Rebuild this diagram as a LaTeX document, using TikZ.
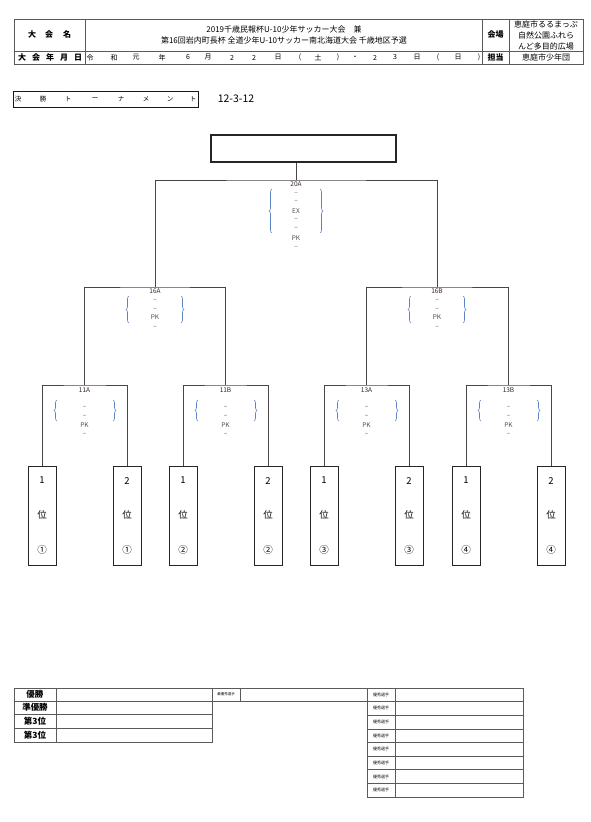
\documentclass[tikz,border=0pt]{standalone}
\usepackage{fontspec}
\setmainfont{Noto Sans CJK JP}
\usepackage{tikz}
\usetikzlibrary{decorations.pathreplacing}
\definecolor{lineink}{RGB}{70, 70, 70}
\definecolor{gridink}{RGB}{90, 90, 90}
\definecolor{braceblue}{RGB}{88, 132, 196}
\definecolor{labelink}{RGB}{50, 35, 30}
\definecolor{markink}{RGB}{85, 75, 70}
\tikzset{
  gridline/.style={draw=gridink, line width=0.7pt},
  headtext/.style={font=\fontsize{8}{9}\selectfont, inner sep=0pt},
  datechar/.style={font=\fontsize{7}{8}\selectfont, inner sep=0pt},
  titlechar/.style={font=\fontsize{6.5}{7}\selectfont, inner sep=0pt},
  titlebox/.style={draw=black!90, line width=1pt},
  champbox/.style={
    rectangle, draw=black!85, line width=1.4pt,
    minimum width=185pt, minimum height=27pt
  },
  teambox/.style={
    rectangle, draw=black!85, line width=0.8pt,
    minimum width=28pt, minimum height=99pt, inner sep=0pt
  },
  teamtext/.style={font=\fontsize{9.5}{10}\selectfont, inner sep=0pt},
  bracket/.style={draw=lineink, line width=0.8pt},
  matchlabel/.style={font=\fontsize{6.5}{7}\selectfont, text=labelink, inner sep=0pt},
  scoremark/.style={font=\fontsize{6.5}{7}\selectfont, text=markink, inner sep=0pt},
  scorebrace/.style={
    draw=braceblue, line width=0.6pt, decorate,
    decoration={brace, amplitude=3pt}
  },
  ranklabel/.style={font=\bfseries\fontsize{8.5}{9}\selectfont, inner sep=0pt},
  tinylabel/.style={font=\fontsize{3.5}{4}\selectfont, inner sep=0pt},
  smalllabel/.style={font=\fontsize{4}{5}\selectfont, inner sep=0pt}
}

\begin{document}
\begin{tikzpicture}[x=1pt, y=-1pt]

  \useasboundingbox (0,0) rectangle (590,822);

  % Header table
  \draw[gridline] (14,19) rectangle (583,64);
  \draw[gridline] (14,51) -- (583,51);
  \draw[gridline] (85,19) -- (85,64);
  \draw[gridline] (482,19) -- (482,64);
  \draw[gridline] (509,19) -- (509,64);

  \foreach \x/\t in {32/大,49/会,67/名}
    \node[headtext, font=\bfseries\fontsize{8}{9}\selectfont] at (\x,34) {\t};
  \node[headtext] (title1) at (284,29) {2019千歳民報杯U-10少年サッカー大会　兼};
  \node[headtext] (title2) at (284,40) {第16回岩内町長杯 全道少年U-10サッカー南北海道大会 千歳地区予選};
  \node[headtext, font=\bfseries\fontsize{8}{9}\selectfont] (venue_head) at (495.5,34) {会場};
  \node[headtext] (venue1) at (546,24) {恵庭市るるまっぷ};
  \node[headtext] (venue2) at (546,35) {自然公園ふれら};
  \node[headtext] (venue3) at (546,46) {んど多目的広場};

  \foreach \x/\t in {22/大,36/会,50/年,64/月,78/日}
    \node[headtext, font=\bfseries\fontsize{8}{9}\selectfont] at (\x,57.5) {\t};
  \foreach \x/\t in {90/{令},114/{和},136/{元},162/{年},188/{6},208/{月},232/{2},254/{2},278/{日},
                     300/{(},318/{土},338/{)},355/{・},375/{2},395/{3},417/{日},438/{(},458/{日},479/{)}}
    \node[datechar] at (\x,57.5) {\t};
  \node[headtext, font=\bfseries\fontsize{8}{9}\selectfont] (staff_head) at (495.5,57.5) {担当};
  \node[headtext] (staff) at (546,57.5) {恵庭市少年団};

  % Title
  \draw[titlebox] (13,91) rectangle (198,107);
  \foreach \x/\t in {18/決,43/勝,68/ト,95/ー,121/ナ,146/メ,170/ン,193/ト}
    \node[titlechar] at (\x,99) {\t};
  \node[headtext, font=\fontsize{10.5}{11}\selectfont] (round_code) at (236,99) {12-3-12};

  % Champion
  \node[champbox] (champ) at (303.5,148.5) {};

  % Match points
  \coordinate (m20A) at (296,180);
  \coordinate (m16A) at (155,287);
  \coordinate (m16B) at (437,287);
  \coordinate (m11A) at (84.5,385);
  \coordinate (m11B) at (225.5,385);
  \coordinate (m13A) at (366.5,385);
  \coordinate (m13B) at (508.5,385);

  % Teams
  \foreach \x/\r/\g [count=\i] in {42/1/①,127/2/①,183/1/②,268/2/②,324/1/③,409/2/③,466/1/④,551/2/④} {
    \node[teambox] (team\i) at (\x,515.5) {};
    \node[teamtext] (rank\i) at ([yshift=-15pt]team\i.north) {\r};
    \node[teamtext] (pos\i) at ([yshift=-49pt]team\i.north) {位};
    \node[teamtext] (group\i) at ([yshift=-84pt]team\i.north) {\g};
  }

  % Bracket
  \draw[bracket] (team1.north) |- (m11A) -| (team2.north);
  \draw[bracket] (team3.north) |- (m11B) -| (team4.north);
  \draw[bracket] (team5.north) |- (m13A) -| (team6.north);
  \draw[bracket] (team7.north) |- (m13B) -| (team8.north);
  \draw[bracket] (m11A) |- (m16A) -| (m11B);
  \draw[bracket] (m13A) |- (m16B) -| (m13B);
  \draw[bracket] (m16A) |- (m20A) -| (m16B);
  \draw[bracket] (m20A) -- (m20A |- champ.south);

  % Final score block
  \node[matchlabel] (lab20A) at ([yshift=-4pt]m20A) {20A};
  \foreach \dy/\t in {13/--,21/--,31/EX,39/--,48/--,58/PK,67/--}
    \node[scoremark] at ([yshift=-\dy pt]m20A) {\t};
  \draw[scorebrace] ([shift={(-24pt,-53pt)}]m20A) -- ([shift={(-24pt,-9pt)}]m20A);
  \draw[scorebrace] ([shift={(24pt,-9pt)}]m20A) -- ([shift={(24pt,-53pt)}]m20A);

  % Semi-final score blocks
  \foreach \m/\t in {m16A/16A,m16B/16B} {
    \node[matchlabel] (lab\t) at ([yshift=-4pt]\m) {\t};
    \foreach \dy/\s in {13/--,22/--,30/PK,40/--}
      \node[scoremark] at ([yshift=-\dy pt]\m) {\s};
    \draw[scorebrace] ([shift={(-26pt,-36pt)}]\m) -- ([shift={(-26pt,-9pt)}]\m);
    \draw[scorebrace] ([shift={(26pt,-9pt)}]\m) -- ([shift={(26pt,-36pt)}]\m);
  }

  % First round score blocks
  \foreach \m/\t in {m11A/11A,m11B/11B,m13A/13A,m13B/13B} {
    \node[matchlabel] (lab\t) at ([yshift=-5pt]\m) {\t};
    \foreach \dy/\s in {22/--,31/--,40/PK,49/--}
      \node[scoremark] at ([yshift=-\dy pt]\m) {\s};
    \draw[scorebrace] ([shift={(-27.5pt,-36pt)}]\m) -- ([shift={(-27.5pt,-15pt)}]\m);
    \draw[scorebrace] ([shift={(28.5pt,-15pt)}]\m) -- ([shift={(28.5pt,-36pt)}]\m);
  }

  % Results table
  \draw[gridline] (14,688) rectangle (367,701);
  \draw[gridline] (14,701) rectangle (212,742);
  \foreach \y in {714,728}
    \draw[gridline] (14,\y) -- (212,\y);
  \draw[gridline] (56,688) -- (56,742);
  \draw[gridline] (212,688) -- (212,701);
  \draw[gridline] (240,688) -- (240,701);
  \foreach \y/\t in {694.5/優勝,707.5/準優勝,721/第3位,735/第3位}
    \node[ranklabel] at (35,\y) {\t};
  \node[tinylabel] (mvp) at (226,694.5) {最優秀選手};

  % Best players table
  \draw[gridline] (367,688) rectangle (523,797);
  \draw[gridline] (395,688) -- (395,797);
  \foreach \i in {1,...,7}
    \draw[gridline] (367,688+13.625*\i) -- (523,688+13.625*\i);
  \foreach \i in {0,...,7}
    \node[smalllabel] at (381,694.8+13.625*\i) {優秀選手};

\end{tikzpicture}
\end{document}
